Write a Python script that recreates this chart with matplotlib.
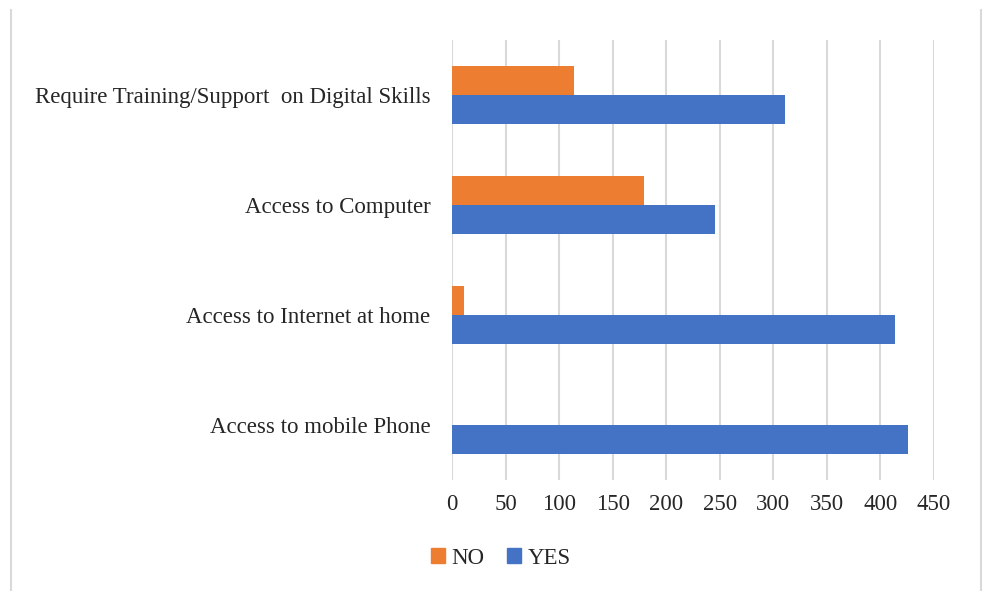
import numpy as np
import matplotlib.pyplot as plt
from matplotlib.lines import Line2D
from matplotlib.patches import Patch

# Survey responses (bottom to top)
categories = ['Access to mobile Phone', 'Access to Internet at home',
              'Access to Computer', 'Require Training/Support  on Digital Skills']
yes_vals = [426, 414, 246, 311]
no_vals = [0, 11, 179, 114]
xticks = [0, 50, 100, 150, 200, 250, 300, 350, 400, 450]

plt.rcParams['font.family'] = ['Liberation Serif', 'DejaVu Serif']
fs = 16.5

fig = plt.figure(figsize=(9.85, 5.91), dpi=100)
W, H = 985, 591
ax = fig.add_axes([452 / W, 1 - 480 / H, (934 - 452) / W, (480 - 40) / H])

y = np.arange(len(categories))
h = 0.264
ax.barh(y - h / 2, yes_vals, height=h, color='#4472C4', zorder=3, label='YES')
ax.barh(y + h / 2, no_vals, height=h, color='#ED7D31', zorder=3, label='NO')

ax.set_xlim(0, 450)
ax.set_ylim(-0.5, len(categories) - 0.5)
ax.set_xticks(xticks)
ax.set_xticklabels([str(t) for t in xticks], fontsize=fs, color='#262626')
ax.set_yticks(y)
ax.set_yticklabels(categories, fontsize=fs, color='#262626')
ax.tick_params(axis='both', length=0)
ax.tick_params(axis='x', pad=10)
ax.tick_params(axis='y', pad=15.5)
ax.grid(axis='x', color='#d9d9d9', linewidth=1.5, zorder=0)
for s in ax.spines.values():
    s.set_visible(False)

handles = [Patch(color='#ED7D31', label='NO'), Patch(color='#4472C4', label='YES')]
fig.legend(handles=handles, loc='center', bbox_to_anchor=(501 / W, 1 - 558 / H),
           ncol=2, frameon=False, fontsize=fs, handlelength=0.6, handleheight=0.6,
           handletextpad=0.3, columnspacing=1.0, labelcolor='#262626')

# chart frame edges
for xf in (10.5 / W, 980.5 / W):
    fig.add_artist(Line2D([xf, xf], [0, 1 - 10 / H], color='#d9d9d9', linewidth=1.5))

fig.savefig('out.png', dpi=100, facecolor='white')
